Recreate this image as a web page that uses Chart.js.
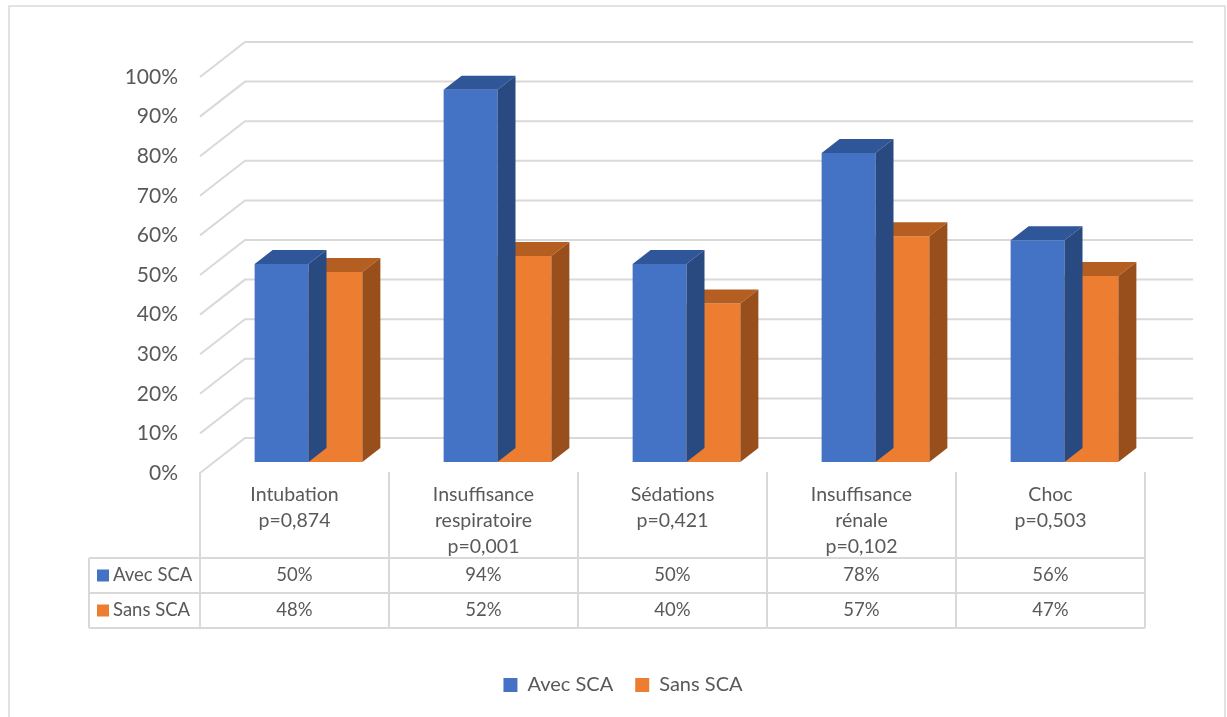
<!DOCTYPE html>
<html>
<head>
<meta charset="utf-8">
<script src="https://cdn.jsdelivr.net/npm/chart.js@4.4.0/dist/chart.umd.min.js"></script>
<style>
  body { margin: 0; background: #fff; }
  #wrap { width: 1227px; height: 717px; position: relative; }
</style>
</head>
<body>
<div id="wrap"><canvas id="myChart"></canvas></div>
<script>
var categories = ["Intubation", "Insuffisance respiratoire", "Sédations", "Insuffisance rénale", "Choc"];
var pValues = ["0,874", "0,001", "0,421", "0,102", "0,503"];
var avecSCA = [50, 94, 50, 78, 56];
var sansSCA = [48, 52, 40, 57, 47];
var yTicks = [0, 10, 20, 30, 40, 50, 60, 70, 80, 90, 100];

var labels = categories.map(function (c, i) {
  return c.split(" ").concat(["p=" + pValues[i]]);
});

var textColor = "#595959";
var lineColor = "#d9d9d9";
var font = "Lato";

// depth of the bars and of the floor/back wall
var barDx = 18, barDy = 14;
var frontDx = 14, frontDy = 11;
var backDx = 31, backDy = 24;

var faces = [
  { top: "#30569a", side: "#294a80" },
  { top: "#b55e22", side: "#984f1c" }
];

var threeD = {
  id: "threeD",
  beforeDraw: function (chart) {
    var c = chart.ctx;
    c.save();
    c.strokeStyle = lineColor;
    c.lineWidth = 1.5;
    c.strokeRect(9, 6, 1216, 730);
    c.restore();
  },
  beforeDatasetsDraw: function (chart) {
    var c = chart.ctx, y = chart.scales.y, a = chart.chartArea;
    c.save();
    c.strokeStyle = lineColor;
    c.lineWidth = 2;
    yTicks.forEach(function (v) {
      var py = y.getPixelForValue(v);
      c.beginPath();
      c.moveTo(a.left - frontDx, py + frontDy);
      c.lineTo(a.left + backDx, py - backDy);
      c.lineTo(a.right + backDx + 3, py - backDy);
      c.stroke();
    });
    c.restore();
  },
  afterDatasetDraw: function (chart, args) {
    var c = chart.ctx;
    var f = faces[args.index];
    args.meta.data.forEach(function (bar) {
      var l = bar.x - bar.width / 2, r = bar.x + bar.width / 2;
      c.save();
      c.fillStyle = f.top;
      c.beginPath();
      c.moveTo(l, bar.y);
      c.lineTo(r, bar.y);
      c.lineTo(r + barDx, bar.y - barDy);
      c.lineTo(l + barDx, bar.y - barDy);
      c.closePath();
      c.fill();
      c.fillStyle = f.side;
      c.beginPath();
      c.moveTo(r, bar.y);
      c.lineTo(r + barDx, bar.y - barDy);
      c.lineTo(r + barDx, bar.base - barDy);
      c.lineTo(r, bar.base);
      c.closePath();
      c.fill();
      c.restore();
    });
  },
  afterDraw: function (chart) {
    var c = chart.ctx, x = chart.scales.x, y = chart.scales.y;
    var base = y.getPixelForValue(0);
    var half = (x.getPixelForValue(1) - x.getPixelForValue(0)) / 2;
    var top = base + 10, r1 = base + 96, r2 = base + 131, r3 = base + 166;
    var left = 89;
    var edges = [];
    for (var i = 0; i < categories.length; i++) edges.push(x.getPixelForValue(i) - frontDx - half);
    var right = x.getPixelForValue(categories.length - 1) - frontDx + half;
    edges.push(right);

    c.save();
    c.strokeStyle = lineColor;
    c.lineWidth = 2;
    c.beginPath();
    [r1, r2, r3].forEach(function (ry) { c.moveTo(left, ry); c.lineTo(right, ry); });
    c.moveTo(left, r1); c.lineTo(left, r3);
    edges.forEach(function (ex) { c.moveTo(ex, top); c.lineTo(ex, r3); });
    c.stroke();

    c.font = "18.5px " + font;
    c.fillStyle = textColor;
    c.textBaseline = "middle";
    var rows = [
      { name: "Avec SCA", vals: avecSCA, color: "#4472c4", y: (r1 + r2) / 2 },
      { name: "Sans SCA", vals: sansSCA, color: "#ed7d31", y: (r2 + r3) / 2 }
    ];
    rows.forEach(function (row) {
      c.fillStyle = row.color;
      c.fillRect(97, row.y - 6, 12, 12);
      c.fillStyle = textColor;
      c.textAlign = "left";
      c.fillText(row.name, 113, row.y);
      c.textAlign = "center";
      row.vals.forEach(function (v, i) {
        c.fillText(v + "%", x.getPixelForValue(i) - frontDx, row.y);
      });
    });
    c.restore();
  }
};

var ctx = document.getElementById("myChart").getContext("2d");
var myChart = new Chart(ctx, {
  type: "bar",
  data: {
    labels: labels,
    datasets: [
      { label: "Avec SCA", data: avecSCA, backgroundColor: "#4472c4", borderWidth: 0 },
      { label: "Sans SCA", data: sansSCA, backgroundColor: "#ed7d31", borderWidth: 0 }
    ]
  },
  options: {
    responsive: true,
    maintainAspectRatio: false,
    animation: false,
    categoryPercentage: 0.57,
    barPercentage: 1,
    layout: { padding: { left: 20, right: 1, top: 66, bottom: 12 } },
    plugins: {
      tooltip: { enabled: false },
      legend: {
        position: "bottom",
        labels: {
          boxWidth: 14,
          boxHeight: 14,
          padding: 22,
          color: textColor,
          font: { family: font, size: 20 }
        }
      }
    },
    scales: {
      x: {
        grid: { display: false, drawTicks: false },
        border: { display: false },
        ticks: {
          color: textColor,
          font: { family: font, size: 19.5, lineHeight: "26px" },
          padding: 20,
          labelOffset: -frontDx,
          maxRotation: 0,
          autoSkip: false
        },
        afterFit: function (scale) { scale.height = 191; }
      },
      y: {
        min: 0,
        max: 100,
        grid: { display: false, drawTicks: false },
        border: { display: false },
        ticks: {
          stepSize: 10,
          color: textColor,
          font: { family: font, size: 21 },
          padding: 36,
          labelOffset: frontDy,
          callback: function (v) { return v + "%"; }
        },
        afterFit: function (scale) { scale.width = 194; }
      },
      yRight: {
        position: "right",
        grid: { display: false, drawTicks: false },
        border: { display: false },
        ticks: { display: false },
        afterFit: function (scale) { scale.width = 67; }
      }
    }
  },
  plugins: [threeD]
});
</script>
</body>
</html>
